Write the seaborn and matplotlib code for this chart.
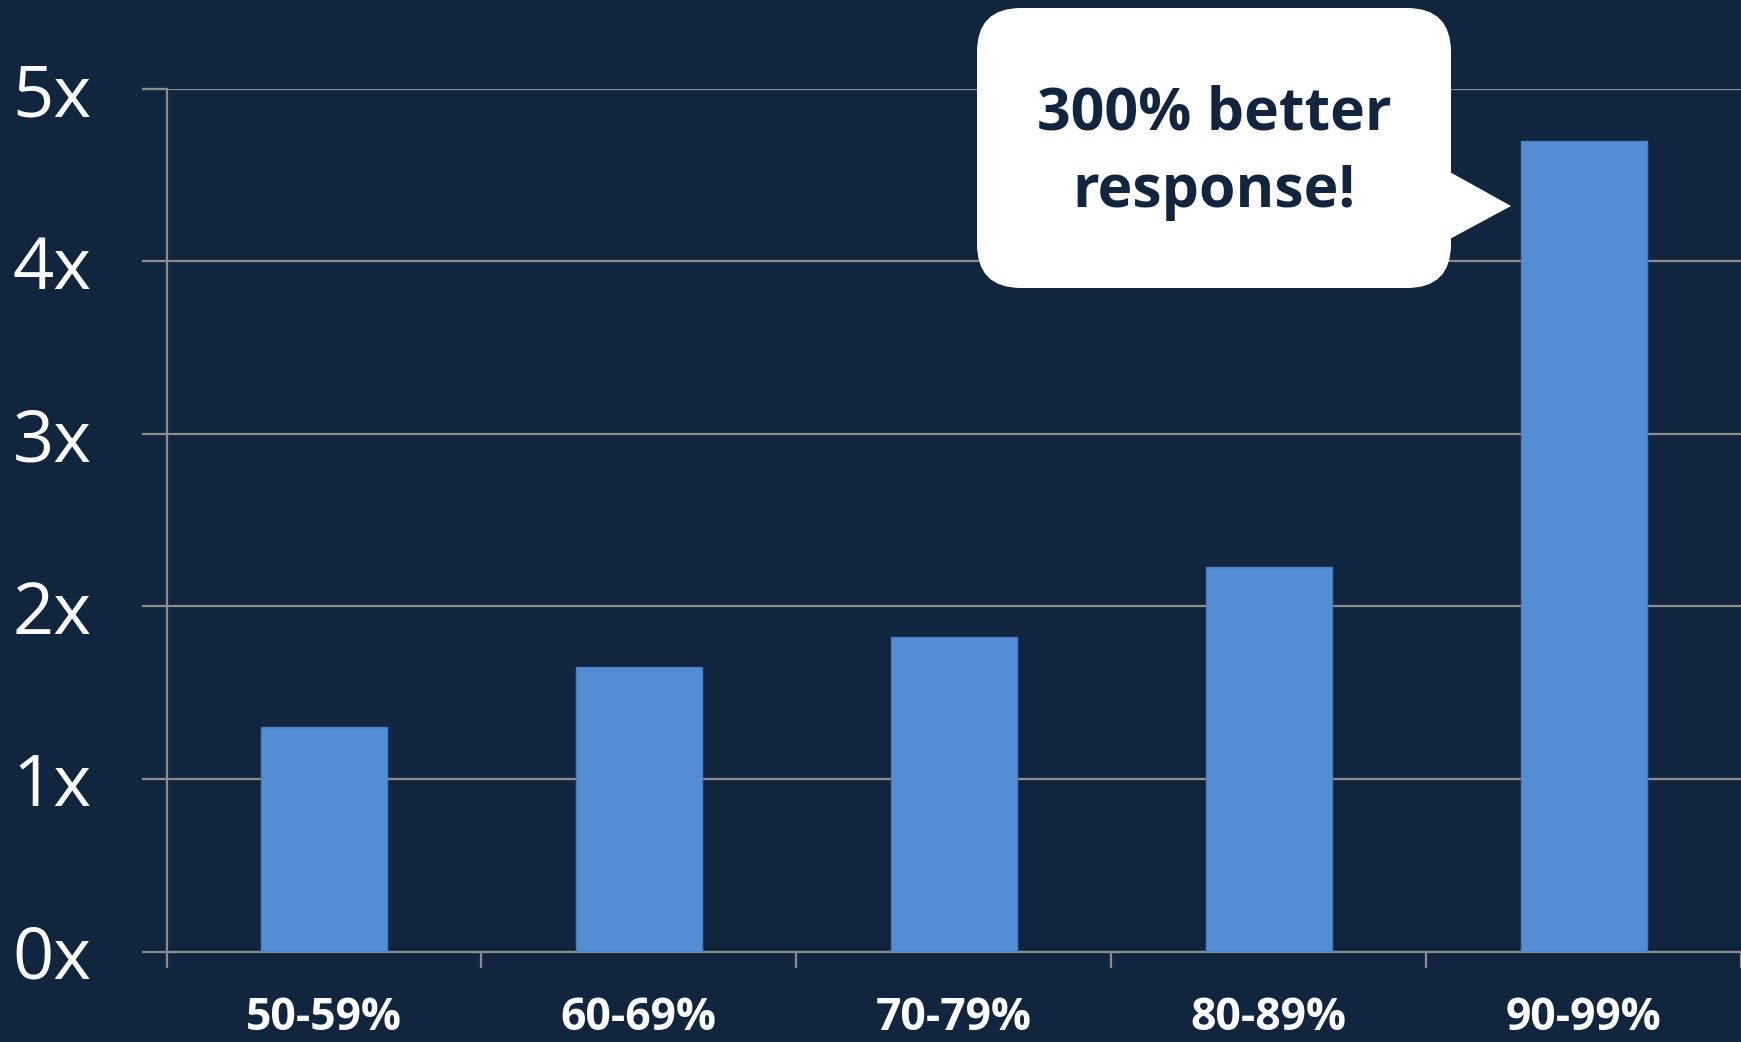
import matplotlib
matplotlib.use("Agg")
import matplotlib.pyplot as plt
from matplotlib.patches import FancyBboxPatch, Polygon
from matplotlib.ticker import FixedLocator
import seaborn as sns
import pandas as pd

# Response lift by score band
bands = ["50-59%", "60-69%", "70-79%", "80-89%", "90-99%"]
lift = [1.30, 1.65, 1.82, 2.23, 4.70]
y_ticks = [0, 1, 2, 3, 4, 5]
y_tick_labels = ["0x", "1x", "2x", "3x", "4x", "5x"]
callout_text = "300% better\nresponse!"

BG = "#12253F"
BAR = "#548DD4"
GRID = "#8C8C8C"

sns.set_theme(style="white")
plt.rcParams["font.family"] = ["Open Sans", "DejaVu Sans"]

W, H = 1741, 1042
fig = plt.figure(figsize=(W / 100, H / 100), dpi=100, facecolor=BG)
ax = fig.add_axes([166.5 / W, 1 - 951.5 / H, 1 - 166.5 / W, (951.5 - 88.8) / H])
ax.set_facecolor(BG)

df = pd.DataFrame({"band": bands, "lift": lift})
sns.barplot(data=df, x="band", y="lift", color=BAR, width=0.4,
            saturation=1, edgecolor="#4A7EBF", linewidth=1, ax=ax, zorder=3)

ax.set_xlim(-0.5, len(bands) - 0.5)
ax.set_ylim(0, 5)
ax.set_xlabel("")
ax.set_ylabel("")

# gridlines and spines
ax.set_yticks(y_ticks)
ax.set_yticklabels(y_tick_labels)
ax.yaxis.grid(True, color=GRID, linewidth=1.6, zorder=0)
ax.xaxis.grid(False)
for s in ["top", "right"]:
    ax.spines[s].set_visible(False)
for s in ["left", "bottom"]:
    ax.spines[s].set_visible(True)
    ax.spines[s].set_color(GRID)
    ax.spines[s].set_linewidth(1.6)
ax.set_axisbelow(True)

ax.tick_params(axis="y", which="major", length=18, width=1.6, color=GRID,
               direction="out", pad=36, labelsize=52, labelcolor="white", left=True)
ax.tick_params(axis="x", which="major", length=0, pad=32,
               labelsize=32, labelcolor="white")
for lab in ax.get_xticklabels():
    lab.set_fontweight("bold")

# boundary ticks between categories
ax.xaxis.set_minor_locator(FixedLocator([i - 0.5 for i in range(len(bands) + 1)]))
ax.tick_params(axis="x", which="minor", length=11.5, width=1.6, color=GRID,
               direction="out", bottom=True)

# speech-bubble callout
box = FancyBboxPatch((977 + 44, H - 288 + 44), 474 - 88, 280 - 88,
                     boxstyle="round,pad=44", transform=None,
                     facecolor="white", edgecolor="none", zorder=10)
fig.patches.append(box)
tail = Polygon([(1448, H - 171), (1511, H - 206), (1448, H - 240)],
               closed=True, transform=None, facecolor="white",
               edgecolor="none", zorder=10)
fig.patches.append(tail)
fig.text((977 + 1451) / 2 / W, 1 - 153 / H, callout_text, ha="center",
         va="center", fontsize=42.5, fontweight="bold", color=BG,
         linespacing=1.4, zorder=11)

fig.savefig("out.png", dpi=100, facecolor=BG)
